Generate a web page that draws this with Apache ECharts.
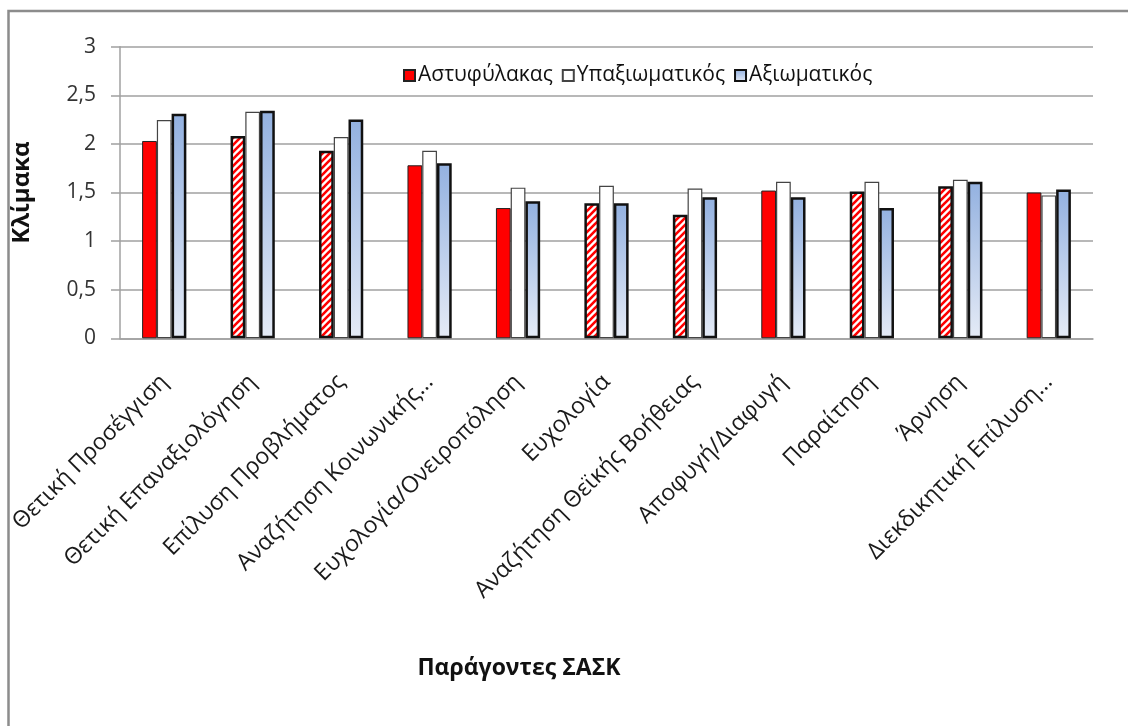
<!DOCTYPE html>
<html>
<head>
<meta charset="utf-8">
<script src="https://cdn.jsdelivr.net/npm/echarts@6/dist/echarts.min.js"></script>
<style>
html,body{margin:0;padding:0;background:#fff;}
#chart{width:1128px;height:726px;}
</style>
</head>
<body>
<div id="chart"></div>
<script>
const categories = [
  'Θετική Προσέγγιση',
  'Θετική Επαναξιολόγηση',
  'Επίλυση Προβλήματος',
  'Αναζήτηση Κοινωνικής…',
  'Ευχολογία/Ονειροπόληση',
  'Ευχολογία',
  'Αναζήτηση Θεϊκής Βοήθειας',
  'Αποφυγή/Διαφυγή',
  'Παραίτηση',
  'Άρνηση',
  'Διεκδικητική Επίλυση…'
];
const seriesNames = ['Αστυφύλακας', 'Υπαξιωματικός', 'Αξιωματικός'];
const astyfylakas   = [2.03, 2.08, 1.93, 1.78, 1.34, 1.39, 1.27, 1.52, 1.51, 1.565, 1.50];
const ypaxiomatikos = [2.245, 2.33, 2.07, 1.93, 1.55, 1.57, 1.54, 1.61, 1.61, 1.63, 1.47];
const axiomatikos   = [2.31, 2.34, 2.25, 1.80, 1.41, 1.39, 1.45, 1.45, 1.34, 1.61, 1.53];
// which Αστυφύλακας bars are drawn hatched
const hatched = [false, true, true, false, false, true, true, false, true, true, false];
const yTicks = { min: 0, max: 3, interval: 0.5 };

const FONT = '"Open Sans", "Noto Sans", sans-serif';

function makeHatch() {
  const s = 7;
  const c = document.createElement('canvas');
  c.width = s; c.height = s;
  const ctx = c.getContext('2d');
  ctx.fillStyle = '#ffffff';
  ctx.fillRect(0, 0, s, s);
  ctx.strokeStyle = '#ff0000';
  ctx.lineWidth = 2.6;
  ctx.lineCap = 'square';
  [[-1, 1, 1, -1], [-1, s + 1, s + 1, -1], [s - 1, s + 1, s + 1, s - 1]].forEach(l => {
    ctx.beginPath(); ctx.moveTo(l[0], l[1]); ctx.lineTo(l[2], l[3]); ctx.stroke();
  });
  return c;
}
const hatchCanvas = makeHatch();

const redData = astyfylakas.map((v, i) => hatched[i]
  ? { value: v, itemStyle: { color: { image: hatchCanvas, repeat: 'repeat' }, borderColor: '#111', borderWidth: 2.5 } }
  : { value: v });

const chart = echarts.init(document.getElementById('chart'), null, { renderer: 'canvas' });
chart.setOption({
  backgroundColor: '#ffffff',
  animation: false,
  textStyle: { fontFamily: FONT },
  graphic: [{
    type: 'rect', silent: true,
    shape: { x: 8.5, y: 11, width: 1200, height: 800 },
    style: { fill: 'none', stroke: '#8c8c8c', lineWidth: 2.5 }
  }],
  title: {
    text: 'Παράγοντες ΣΑΣΚ',
    left: 514, top: 652, textAlign: 'center',
    textStyle: { fontFamily: FONT, fontSize: 23, fontWeight: 'bold', color: '#111' }
  },
  legend: {
    data: seriesNames,
    left: 398, top: 60,
    itemWidth: 11, itemHeight: 11, itemGap: 9,
    icon: 'rect',
    textStyle: { fontFamily: FONT, fontSize: 21, color: '#111', padding: [0, 0, 0, -2] }
  },
  grid: { left: 120, right: 35, top: 46.7, bottom: 387.7, containLabel: false },
  xAxis: {
    type: 'category',
    data: categories,
    axisLine: { lineStyle: { color: '#a0a0a0', width: 1.5 } },
    axisTick: { show: false },
    axisLabel: { rotate: 45, fontFamily: FONT, fontSize: 23, color: '#1a1a1a', margin: 40, interval: 0 }
  },
  yAxis: {
    type: 'value',
    min: yTicks.min, max: yTicks.max, interval: yTicks.interval,
    name: 'Κλίμακα',
    nameLocation: 'middle', nameGap: 86, nameRotate: 90,
    nameTextStyle: { fontFamily: FONT, fontSize: 24, fontWeight: 'bold', color: '#111' },
    axisLine: { show: true, lineStyle: { color: '#a0a0a0', width: 1.5 } },
    axisTick: { show: true, length: 9, lineStyle: { color: '#a0a0a0', width: 1.5 } },
    splitLine: { lineStyle: { color: '#a0a0a0', width: 1.5 } },
    axisLabel: {
      fontFamily: FONT, fontSize: 21, color: '#333', margin: 24,
      formatter: v => String(v).replace('.', ',')
    }
  },
  series: [
    {
      name: seriesNames[0], type: 'bar', data: redData,
      barGap: '0%', barCategoryGap: '50%',
      itemStyle: { color: '#ff0000', borderColor: '#222', borderWidth: 1 }
    },
    {
      name: seriesNames[1], type: 'bar', data: ypaxiomatikos,
      barGap: '0%', barCategoryGap: '50%',
      itemStyle: { color: '#ffffff', borderColor: '#444', borderWidth: 1.2 }
    },
    {
      name: seriesNames[2], type: 'bar', data: axiomatikos,
      barGap: '0%', barCategoryGap: '50%',
      itemStyle: {
        color: new echarts.graphic.LinearGradient(0, 0, 0, 1, [
          { offset: 0, color: '#93b1e0' },
          { offset: 1, color: '#e5ebf6' }
        ]),
        borderColor: '#111', borderWidth: 2.5
      }
    }
  ]
});
</script>
</body>
</html>
